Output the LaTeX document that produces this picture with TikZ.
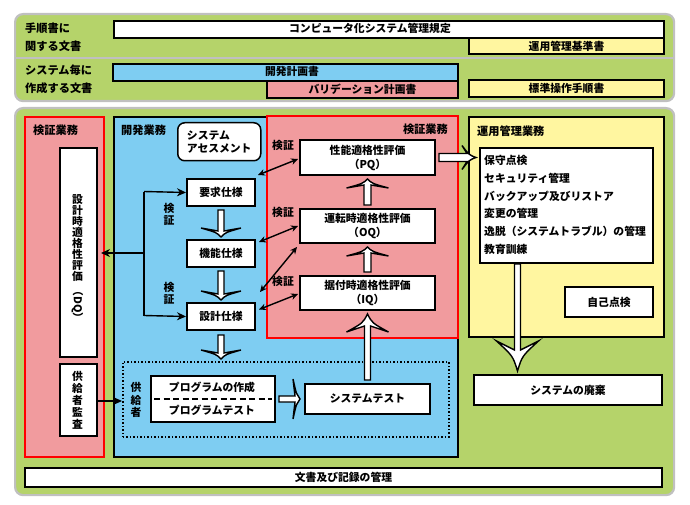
\documentclass[tikz,border=0pt]{standalone}
\usepackage{fontspec}
\setmainfont{Noto Sans CJK JP}
\usepackage{graphicx}
\usetikzlibrary{calc,arrows.meta}
\definecolor{gfill}{RGB}{181,211,106}
\definecolor{gline}{RGB}{192,192,192}
\definecolor{bfill}{RGB}{126,205,242}
\definecolor{pfill}{RGB}{241,155,158}
\definecolor{yfill}{RGB}{255,246,160}

\newdimen\hAx \newdimen\hAy \newdimen\hBx \newdimen\hBy
\newcommand\harrow[6]{%
  \path #1 coordinate (hA);
  \path #2 coordinate (hB);
  \pgfextractx{\hAx}{\pgfpointanchor{hA}{center}}%
  \pgfextracty{\hAy}{\pgfpointanchor{hA}{center}}%
  \pgfextractx{\hBx}{\pgfpointanchor{hB}{center}}%
  \pgfextracty{\hBy}{\pgfpointanchor{hB}{center}}%
  \pgfmathsetmacro\hAng{atan2(\hBy-\hAy,\hBx-\hAx)}%
  \pgfmathsetmacro\hL{veclen(\hBx-\hAx,\hBy-\hAy)}%
  \pgfmathsetmacro\hP{\hL-#5+#6}%
  \pgfmathsetmacro\hQ{\hL-#5}%
  \pgfmathsetmacro\hC{\hL-0.5*#5}%
  \pgfmathsetmacro\hW{0.22*#4}%
  \filldraw[hollow, shift={(hA)}, rotate=\hAng] (0pt,#3pt) -- (\hP pt,#3pt) -- (\hQ pt,#4pt) .. controls (\hC pt,\hW pt) .. (\hL pt,0pt) .. controls (\hC pt,-\hW pt) .. (\hQ pt,-#4pt) -- (\hP pt,-#3pt) -- (0pt,-#3pt) -- cycle;
}
\newcommand\boxat[7]{\node[#1, minimum width=#5pt, minimum height=#6pt] (#2) at (#3,#4) {#7};}

\begin{document}
\begin{tikzpicture}[x=1pt,y=-1pt,
  every node/.style={font=\bfseries\fontsize{10.8}{14}\selectfont, inner sep=0pt, align=center},
  lbl/.style={font=\bfseries\fontsize{11.2}{14}\selectfont},
  panel/.style={draw=gline, line width=2.2pt, fill=gfill, rounded corners=8pt, anchor=north west},
  redarea/.style={draw=red, line width=1.6pt, fill=pfill, anchor=north west},
  bluearea/.style={draw=black, line width=2pt, fill=bfill, anchor=north west},
  yarea/.style={draw=black, line width=2pt, fill=yfill, anchor=north west},
  wbox/.style={draw=black, line width=2pt, fill=white, anchor=north west},
  ybox/.style={wbox, fill=yfill},
  bbox/.style={wbox, fill=bfill},
  pbox/.style={wbox, fill=pfill},
  conn/.style={draw=black, line width=1.4pt},
  onearrow/.style={conn, -{Stealth[length=9pt,width=8pt]}},
  twoarrow/.style={conn, {Stealth[length=7pt,width=6.5pt]}-{Stealth[length=7pt,width=6.5pt]}},
  hollow/.style={fill=white, draw=black, line width=1.4pt, line join=miter},
  vtext/.style={font=\bfseries\fontsize{10.8}{#1}\selectfont}
]
\useasboundingbox (0,0) rectangle (690,505);
\fill[white] (0,0) rectangle (690,505);

% ---------- top documents panel ----------
\boxat{panel}{gtop}{14}{13}{659}{87}{}
\coordinate (sep) at (0,58);
\draw[gline, line width=2pt] (gtop.west |- sep) -- (gtop.east |- sep);
\node[lbl, anchor=west, align=left, font=\bfseries\fontsize{11.2}{17.5}\selectfont] (lbl1) at (25,37) {手順書に\\関する文書};
\node[lbl, anchor=west, align=left, font=\bfseries\fontsize{11.2}{17.5}\selectfont] (lbl2) at (25,79.5) {システム毎に\\作成する文書};

\boxat{wbox}{doc1}{113}{20}{550}{17}{}
\node (doc1t) at (370,28.5) {コンピュータ化システム管理規定};
\boxat{ybox}{doc2}{468}{37}{195}{16}{運用管理基準書}
\boxat{bbox}{doc3}{112}{63}{345}{17}{}
\node (doc3t) at (292,71.5) {開発計画書};
\boxat{pbox}{doc4}{266}{80}{191}{17}{バリデーション計画書}
\boxat{ybox}{doc5}{468}{79}{195}{17}{標準操作手順書}

% ---------- bottom panel ----------
\boxat{panel}{gbot}{14}{107}{659}{387}{}

% left verification area
\boxat{redarea}{vl}{24}{116}{79}{340}{}
\node[lbl, anchor=west] (vlt) at (33,130) {検証業務};
\boxat{wbox}{dq}{59}{147}{37}{209}{}
\node[vtext=11] (dqt) at (77.5,259) {設\\計\\時\\適\\格\\性\\評\\価\\[-6pt]\rotatebox{-90}{（DQ）}};
\boxat{wbox}{sa}{59}{363}{37}{72}{}
\node[vtext=12] (sat) at (77.5,400) {供\\給\\者\\監\\査};

% development area
\boxat{bluearea}{dev}{113}{116}{344}{340}{}
\node[lbl, anchor=west] (devt) at (121,130) {開発業務};
\node[draw=black, line width=1.5pt, fill=white, rounded corners=7pt, anchor=north west,
      minimum width=83pt, minimum height=38pt, align=left,
      font=\bfseries\fontsize{10.8}{13}\selectfont] (asm) at (177,122) {システム\\アセスメント};

% right verification area
\boxat{redarea}{vr}{266}{115}{191}{222}{}
\node[lbl, anchor=east] (vrt) at (448,129) {検証業務};

\boxat{wbox}{req}{186}{178}{68}{27}{要求仕様}
\boxat{wbox}{func}{186}{239}{68}{27}{機能仕様}
\boxat{wbox}{des}{186}{302}{68}{27}{設計仕様}

\boxat{wbox}{pq}{299}{139}{135}{35}{性能適格性評価\\（PQ）}
\boxat{wbox}{oq}{299}{208}{135}{34}{運転時適格性評価\\（OQ）}
\boxat{wbox}{iq}{299}{275}{135}{34}{据付時適格性評価\\（IQ）}
\node (k1) at (283,145) {検証};
\node (k2) at (283,212) {検証};
\node (k3) at (283,281) {検証};
\node[vtext=12] (k4) at (169,214) {検\\証};
\node[vtext=12] (k5) at (169,293) {検\\証};

% supplier
\node[draw=black, dotted, line width=1.5pt, anchor=north west, minimum width=326pt, minimum height=75pt] (sup) at (122,361) {};
\node[vtext=12.5] (supt) at (136,400) {供\\給\\者};
\boxat{wbox}{prog}{150}{375}{124}{46}{}
\node (pg1) at (212,387) {プログラムの作成};
\node (pg2) at (212,410) {プログラムテスト};
\draw[black, line width=2pt, dash pattern=on 6pt off 3.5pt] ($(prog.west)+(4,0)$) -- ($(prog.east)+(-4,0)$);
\boxat{wbox}{st}{304}{383}{125}{30}{システムテスト}

% operation area
\boxat{yarea}{ops}{468}{116}{195}{220}{}
\node[lbl, anchor=west] (opst) at (477,131) {運用管理業務};
\boxat{wbox}{lst}{479}{147}{173}{115}{}
\node[anchor=west, align=left, font=\bfseries\fontsize{10.8}{17.8}\selectfont] (items) at (484,205) {保守点検\\セキュリティ管理\\バックアップ及びリストア\\変更の管理\\逸脱（システムトラブル）の管理\\教育訓練};
\boxat{wbox}{self}{564}{286}{88}{30}{自己点検}
\boxat{wbox}{disp}{473}{374}{188}{30}{システムの廃棄}

\boxat{wbox}{rec}{24}{467}{637}{19}{文書及び記録の管理}

% ---------- connectors ----------
\coordinate (busTop) at (144,191.5);
\coordinate (busMid) at (144,253);
\coordinate (busBot) at (144,315.5);
\draw[conn] (busTop) -- (busBot);
\draw[onearrow] (busTop) -- (req.west);
\draw[onearrow] (busBot) -- (des.west);
\draw[onearrow, shorten >=3pt] (busMid) -- (dq.east |- busMid);
\draw[onearrow] (sa.east |- 0,401) -- (sup.west |- 0,401);

\draw[twoarrow] ($(req.north east)+(2,-3)$) -- ($(pq.west)+(-1,1.5)$);
\draw[twoarrow] ($(func.north east)+(3,3)$) -- ($(oq.west)+(-1,0)$);
\draw[twoarrow] ($(des.north east)+(4,-10)$) -- ($(oq.south west)+(-2,3)$);
\draw[twoarrow] ($(des.east)+(3,-7)$) -- ($(iq.west)+(-1,1)$);

% hollow arrows
\harrow{($(req.south)+(0,3)$)}{($(func.north)+(0,-2)$)}{3}{20}{9}{3}
\harrow{($(func.south)+(0,3)$)}{($(des.north)+(0,-2)$)}{3}{20}{9}{3}
\harrow{($(des.south)+(0,4)$)}{($(sup.north -| des.south)+(0,-2)$)}{3}{20}{9}{3}
\harrow{($(iq.north)+(0,-3)$)}{($(oq.south)+(0,3)$)}{3.5}{21}{9}{3}
\harrow{($(oq.north)+(0,-3)$)}{($(pq.south)+(0,3)$)}{3.5}{21}{9}{3}
\harrow{($(st.north)+(0,-3)$)}{($(iq.south)+(0,3)$)}{3}{21}{18}{6}
\harrow{($(prog.east)+(3,0)$)}{($(st.west |- prog.east)+(-4,0)$)}{3}{20}{7}{2}
\harrow{($(pq.east)+(3,0)$)}{($(lst.west |- pq.east)+(-3,0)$)}{4}{12}{14}{5}
\coordinate (ldown) at ($(lst.south west)!0.22!(lst.south east)$);
\harrow{(ldown)}{($(ldown |- disp.north)+(0,-3)$)}{3}{21}{30}{9}
\end{tikzpicture}
\end{document}
